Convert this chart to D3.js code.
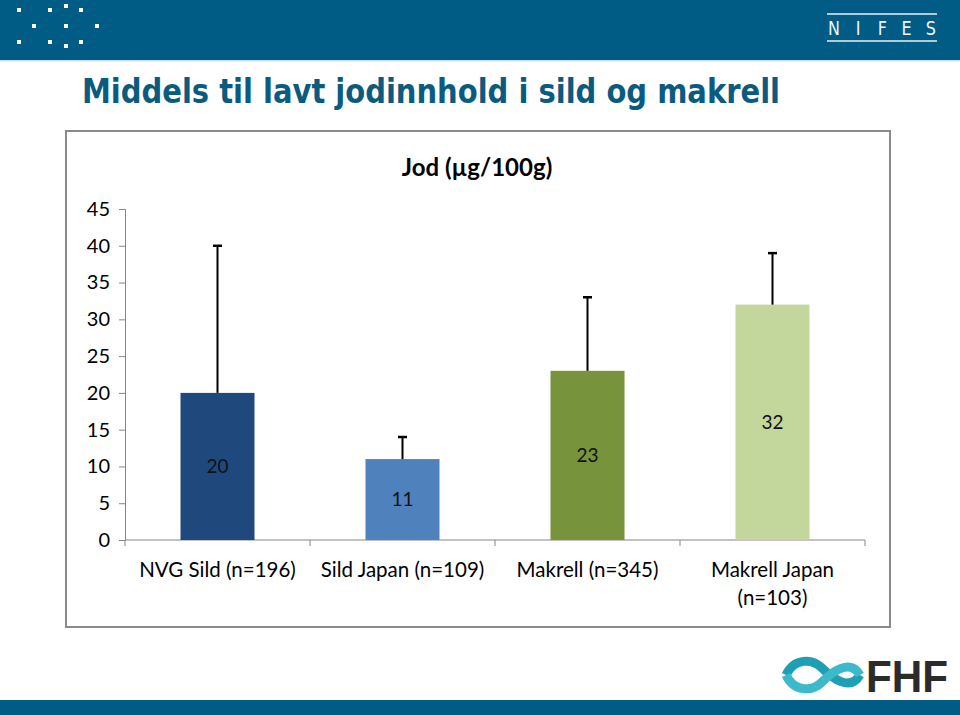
<!DOCTYPE html>
<html><head><meta charset="utf-8">
<script src="https://cdn.jsdelivr.net/npm/d3@7"></script>
<style>body{margin:0;background:#fff}svg{display:block}</style>
</head><body>
<script>
const categories = ["NVG Sild (n=196)", "Sild Japan (n=109)", "Makrell (n=345)", "Makrell Japan (n=103)"];
const categoryLines = [["NVG Sild (n=196)"], ["Sild Japan (n=109)"], ["Makrell (n=345)"], ["Makrell Japan", "(n=103)"]];
const values = [20, 11, 23, 32];
const errors = [20, 3, 10, 7];
const barColors = ["#1f497d", "#4f81bd", "#77933c", "#c3d69b"];
const yTicks = [0, 5, 10, 15, 20, 25, 30, 35, 40, 45];

const W = 960, H = 715;
const svg = d3.select("body").append("svg").attr("width", W).attr("height", H);
const teal = "#005c84";

// header band
svg.append("rect").attr("x", 0).attr("y", 0).attr("width", W).attr("height", 60).attr("fill", teal);
svg.append("rect").attr("x", 0).attr("y", 60).attr("width", W).attr("height", 1.5).attr("fill", "#cfe0ea");
const dots = [[19,10],[50,10],[66,6],[81,10],[34,26],[66,26],[97,26],[19,42],[50,42],[66,46],[81,42]];
svg.selectAll("rect.dot").data(dots).join("rect").attr("class","dot")
  .attr("x", d => d[0]-2).attr("y", d => d[1]-2).attr("width", 4).attr("height", 4).attr("fill", "#fff");
// NIFES logo
svg.append("line").attr("x1", 827).attr("x2", 937).attr("y1", 14).attr("y2", 14).attr("stroke", "#e8f0f5").attr("stroke-width", 1.5);
svg.append("line").attr("x1", 827).attr("x2", 937).attr("y1", 41).attr("y2", 41).attr("stroke", "#e8f0f5").attr("stroke-width", 1.5);
["N","I","F","E","S"].forEach((ch, i) => {
  svg.append("text").attr("x", 834 + i*24.2).attr("y", 35.5).attr("text-anchor", "middle")
    .attr("font-family", "DejaVu Sans").attr("font-weight", "normal").attr("font-size", 20)
    .attr("transform", `translate(${834 + i*24.2},0) scale(0.8,1) translate(${-(834 + i*24.2)},0)`)
    .attr("fill", "#f0f5f8").text(ch);
});

// slide title
svg.append("text").attr("x", 82).attr("y", 103)
  .attr("font-family", "DejaVu Sans Condensed, DejaVu Sans").attr("font-weight", "bold")
  .attr("font-size", 33).attr("fill", "#0b5a80")
  .attr("textLength", 698).attr("lengthAdjust", "spacingAndGlyphs")
  .text("Middels til lavt jodinnhold i sild og makrell");

// bottom band
svg.append("rect").attr("x", 0).attr("y", 700).attr("width", W).attr("height", 15).attr("fill", teal);

// FHF logo
const lg = svg.append("g");
lg.append("path").attr("d", "M786,675 C794,658 812,658 822,668 C832,678 850,692 860,675")
  .attr("fill", "none").attr("stroke", "#1f9fb3").attr("stroke-width", 9);
lg.append("path").attr("d", "M786,675 C794,692 812,692 822,682 C832,672 850,658 860,675")
  .attr("fill", "none").attr("stroke", "#3cb9cb").attr("stroke-width", 9);
svg.append("text").attr("x", 866).attr("y", 692).attr("font-family", "Liberation Sans, Arial").attr("font-weight", "bold")
  .attr("font-size", 44).attr("fill", "#2b2b2b").attr("textLength", 82).attr("lengthAdjust", "spacingAndGlyphs").text("FHF");

// chart frame
svg.append("rect").attr("x", 66).attr("y", 131).attr("width", 824).attr("height", 496)
  .attr("fill", "#fff").attr("stroke", "#8a8a8a").attr("stroke-width", 2);

const font = "Lato, 'Open Sans', sans-serif";
svg.append("text").attr("x", 477).attr("y", 176).attr("text-anchor", "middle")
  .attr("font-family", font).attr("font-weight", "bold").attr("font-size", 24).attr("fill", "#000")
  .text("Jod (µg/100g)");

const x = d3.scaleBand().domain(categories).range([125, 865]).paddingInner(0.6).paddingOuter(0.3);
const y = d3.scaleLinear().domain([0, 45]).range([540, 209]);

// y axis
const yAxis = svg.append("g").attr("transform", "translate(125,0)")
  .call(d3.axisLeft(y).tickValues(yTicks).tickSize(6).tickPadding(9));
yAxis.select(".domain").attr("stroke", "#868686");
yAxis.selectAll(".tick line").attr("stroke", "#868686");
yAxis.selectAll("text").attr("font-family", font).attr("font-size", 20).attr("fill", "#000");

// x axis
const xAxis = svg.append("g").attr("transform", "translate(0,540)");
xAxis.append("line").attr("x1", 125).attr("x2", 865).attr("stroke", "#868686");
const bounds = d3.range(categories.length + 1).map(i => 125 + i * (740 / categories.length));
xAxis.selectAll("line.tk").data(bounds).join("line").attr("class","tk")
  .attr("x1", d => d).attr("x2", d => d).attr("y1", 0).attr("y2", 6).attr("stroke", "#868686");

const cx = c => x(c) + x.bandwidth() / 2;

// bars
svg.selectAll("rect.bar").data(categories).join("rect").attr("class","bar")
  .attr("x", c => x(c)).attr("width", x.bandwidth())
  .attr("y", (c,i) => y(values[i])).attr("height", (c,i) => y(0) - y(values[i]))
  .attr("fill", (c,i) => barColors[i]);

// error bars
categories.forEach((c, i) => {
  const g = svg.append("g").attr("stroke", "#000").attr("stroke-width", 2);
  g.append("line").attr("x1", cx(c)).attr("x2", cx(c)).attr("y1", y(values[i])).attr("y2", y(values[i] + errors[i]));
  g.append("line").attr("x1", cx(c) - 4.5).attr("x2", cx(c) + 4.5).attr("y1", y(values[i] + errors[i])).attr("y2", y(values[i] + errors[i])).attr("stroke-width", 2.5);
});

// value labels
svg.selectAll("text.val").data(categories).join("text").attr("class","val")
  .attr("x", c => cx(c)).attr("y", (c,i) => y(values[i] / 2)).attr("dy", "0.35em")
  .attr("text-anchor", "middle").attr("font-family", font).attr("font-size", 19).attr("fill", "#111")
  .text((c,i) => values[i]);

// category labels
categories.forEach((c, i) => {
  const t = svg.append("text").attr("text-anchor", "middle").attr("font-family", font)
    .attr("font-size", 20.5).attr("fill", "#000");
  categoryLines[i].forEach((ln, j) => {
    t.append("tspan").attr("x", cx(c)).attr("y", 577 + j * 28).text(ln);
  });
});
</script>
</body></html>
